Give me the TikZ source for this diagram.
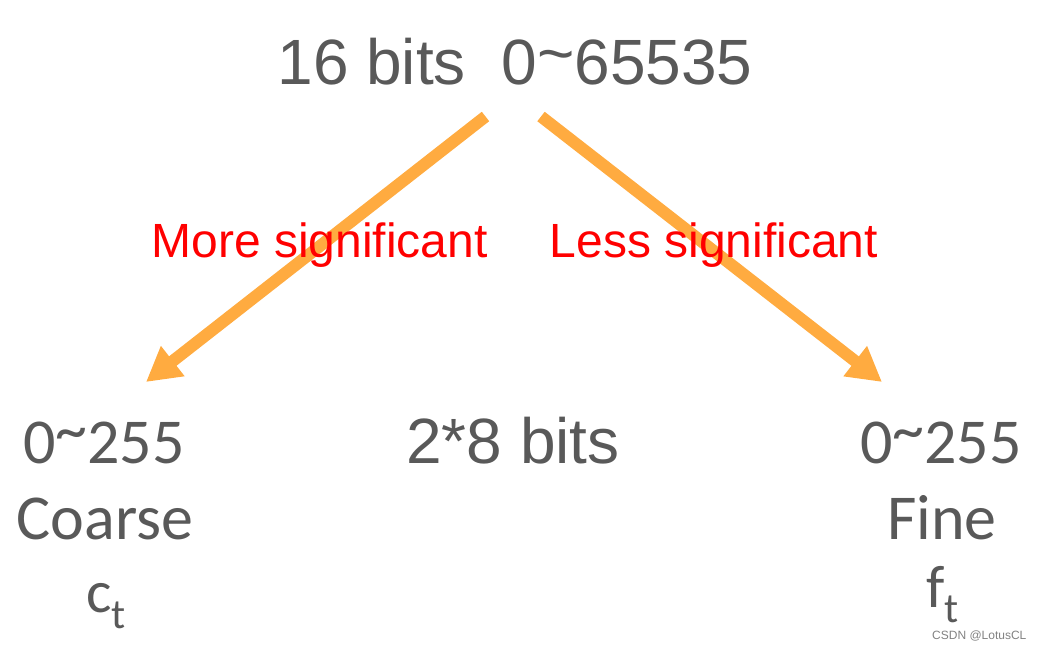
\documentclass[tikz,border=0pt]{standalone}
\usepackage{fontspec}
\setmainfont{Liberation Sans}
\newfontfamily\calibri{Carlito}
\usetikzlibrary{arrows.meta}
\definecolor{txtgrey}{RGB}{89,89,89}
\definecolor{arrorange}{RGB}{255,171,64}
\definecolor{wmgrey}{RGB}{130,130,130}
\newcommand{\hitilde}[1]{\raisebox{#1}{\char`~}}
\tikzset{
  bigtxt/.style={inner sep=0pt, anchor=base, text=txtgrey, font=\fontsize{64}{64}\selectfont},
  caltxt/.style={inner sep=0pt, anchor=base, text=txtgrey, font=\calibri\fontsize{64}{64}\selectfont},
  redtxt/.style={inner sep=0pt, anchor=base, text=red, font=\fontsize{48}{48}\selectfont},
  bitarrow/.style={draw=arrorange, line width=12pt, -{Triangle[length=34pt,width=36pt]}},
  wmtxt/.style={inner sep=0pt, anchor=base west, text=wmgrey, font=\fontsize{12}{12}\selectfont}
}
\begin{document}
\begin{tikzpicture}[x=1pt,y=-1pt]
\path[use as bounding box] (0,0) rectangle (1041,647);
% arrows (drawn first, labels above)
\coordinate (ls) at (485.5,116.5);
\coordinate (lt) at (146,382);
\coordinate (rs) at (541,116.5);
\coordinate (rt) at (882,382);
\draw[bitarrow] (ls) -- (lt);
\draw[bitarrow] (rs) -- (rt);
% top text
\node[bigtxt] (top) at (515,85) {16 bits\ \ 0\hitilde{9pt}65535};
% labels
\node[redtxt] (more) at (319.5,257) {More significant};
\node[redtxt] (less) at (714,257) {Less significant};
% middle
\node[bigtxt] (mid) at (513,463) {2*8 bits};
% left column
\node[caltxt] (lrange) at (104,463) {0\hitilde{12pt}255};
\node[caltxt] (coarse) at (105,539) {Coarse};
\node[caltxt, anchor=base west] (ct) at (86,612) {\fontsize{60}{60}\selectfont c\raisebox{-16pt}{\fontsize{42}{42}\selectfont t}};
% right column
\node[caltxt] (rrange) at (941,463) {0\hitilde{12pt}255};
\node[caltxt] (fine) at (942,539) {Fine};
\node[caltxt, anchor=base west] (ft) at (926,607) {\fontsize{60}{60}\selectfont f\raisebox{-15pt}{\fontsize{42}{42}\selectfont t}};
% watermark
\node[wmtxt] (wm) at (932,639) {CSDN @LotusCL};
\end{tikzpicture}
\end{document}
